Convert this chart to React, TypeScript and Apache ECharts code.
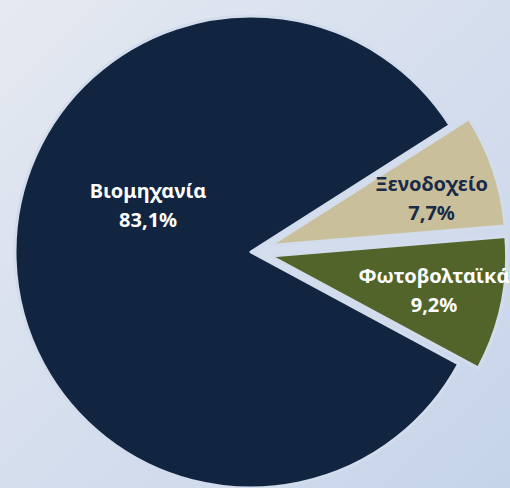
import React, { useEffect, useRef } from "react";
import * as echarts from "echarts";

const categories = ["Ξενοδοχείο", "Φωτοβολταϊκά", "Βιομηχανία"];
const values = [7.7, 9.2, 83.1];
const sliceColors = ["#c9c09b", "#526429", "#112541"];
const labelColors = ["#1a2a48", "#ffffff", "#ffffff"];
const labelShift = [
  [47, -9],
  [45, 9],
  [18, -51],
];

export default function App() {
  const ref = useRef<HTMLDivElement>(null);
  useEffect(() => {
    document.body.style.margin = "0";
    const chart = echarts.init(ref.current!, null, { renderer: "svg" });
    chart.setOption({
      animation: false,
      backgroundColor: {
        type: "linear",
        x: 0,
        y: 0,
        x2: 1,
        y2: 1,
        colorStops: [
          { offset: 0, color: "#e5e9f1" },
          { offset: 1, color: "#c6d4ea" },
        ],
      },
      series: [
        {
          type: "pie",
          center: [251, 252],
          radius: 236,
          startAngle: 32.5,
          clockwise: true,
          selectedMode: "multiple",
          selectedOffset: 20,
          emphasis: { disabled: true },
          itemStyle: { borderColor: "#d2dcec", borderWidth: 3 },
          label: {
            show: true,
            position: "inside",
            fontFamily: "Noto Sans",
            fontWeight: "bold",
            fontSize: 20,
            lineHeight: 29,
            formatter: (p: any) =>
              p.name + "\n" + p.value.toFixed(1).replace(".", ",") + "%",
          },
          labelLayout: (p: any) => ({
            dx: labelShift[p.dataIndex][0],
            dy: labelShift[p.dataIndex][1],
          }),
          labelLine: { show: false },
          data: categories.map((c, i) => ({
            name: c,
            value: values[i],
            selected: i < 2,
            itemStyle: { color: sliceColors[i] },
            label: { color: labelColors[i] },
          })),
        },
      ],
    });
    return () => chart.dispose();
  }, []);
  return <div ref={ref} style={{ width: 510, height: 488 }} />;
}
